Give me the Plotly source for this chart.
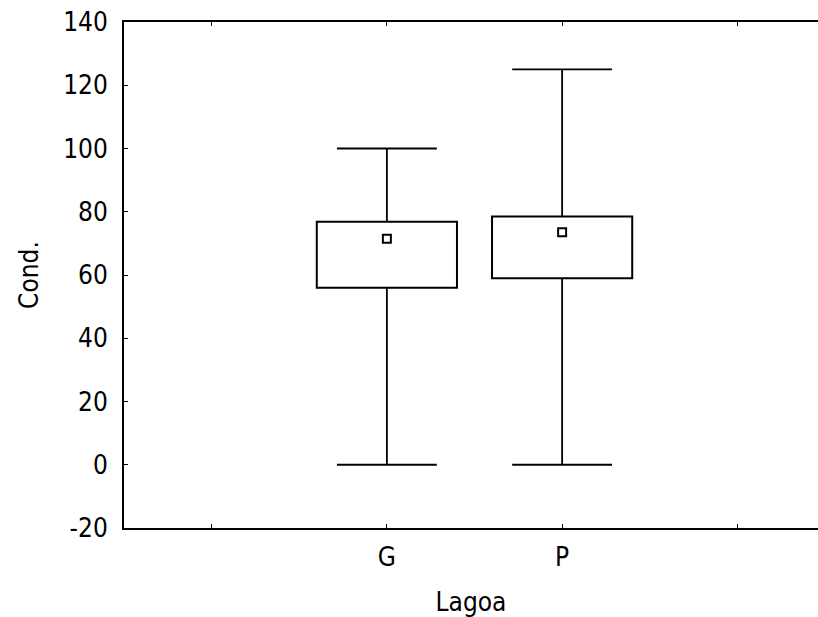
import plotly.graph_objects as go

categories = ["G", "P"]
minimum = [0, 0]
q1 = [56, 59]
median = [71.5, 73.5]
q3 = [76.8, 78.5]
maximum = [100, 125]

tick_labels = ["", "G", "P", ""]
y_ticks = [-20, 0, 20, 40, 60, 80, 100, 120, 140]
y_tick_text = ["-20", "0", "20", "40", "60", "80", "100", "120", "140"]

FONT = "DejaVu Sans Condensed, DejaVu Sans, sans-serif"
box_half = 0.4
cap_half = 0.285

xpos = [i + 1 for i in range(len(categories))]

shapes = []
for x, lo, a, m, b, hi in zip(xpos, minimum, q1, median, q3, maximum):
    line = dict(color="black", width=1.8)
    shapes.append(dict(type="line", xref="x", yref="y", x0=x, x1=x, y0=lo, y1=hi, line=line, layer="below"))
    shapes.append(dict(type="line", xref="x", yref="y", x0=x - cap_half, x1=x + cap_half, y0=lo, y1=lo, line=line, layer="below"))
    shapes.append(dict(type="line", xref="x", yref="y", x0=x - cap_half, x1=x + cap_half, y0=hi, y1=hi, line=line, layer="below"))
    shapes.append(dict(type="rect", xref="x", yref="y", x0=x - box_half, x1=x + box_half, y0=a, y1=b,
                       line=dict(color="black", width=2), fillcolor="white", layer="below"))

fig = go.Figure()
fig.add_trace(go.Scatter(
    x=xpos, y=median, mode="markers",
    marker=dict(symbol="square", size=8, color="white", line=dict(color="black", width=2)),
    showlegend=False, hoverinfo="skip"))

fig.update_layout(
    width=818, height=617,
    margin=dict(l=124, r=0, t=22, b=89),
    paper_bgcolor="white", plot_bgcolor="white",
    font=dict(family=FONT, size=26, color="black"),
    shapes=shapes,
    showlegend=False,
)
fig.update_xaxes(
    range=[-0.5, 3.46], tickvals=[0, 1, 2, 3], ticktext=tick_labels,
    showgrid=False, zeroline=False, showline=True, linecolor="black", linewidth=2,
    mirror="ticks", ticks="inside", ticklen=4, tickwidth=1.2, tickcolor="black",
    ticklabelstandoff=5,
    title=dict(text="Lagoa", standoff=24, font=dict(family=FONT, size=26)),
)
fig.update_yaxes(
    range=[-20, 140], tickvals=y_ticks, ticktext=y_tick_text,
    showgrid=False, zeroline=False, showline=True, linecolor="black", linewidth=2,
    mirror=False, ticks="inside", ticklen=4, tickwidth=1.2, tickcolor="black",
    ticklabelstandoff=9,
    title=dict(text="Cond.", standoff=17, font=dict(family=FONT, size=26)),
)

fig.write_html(
    "out.html",
    config={"displayModeBar": False},
    post_script="document.body.style.margin='0px'; document.body.style.overflow='hidden';",
)
